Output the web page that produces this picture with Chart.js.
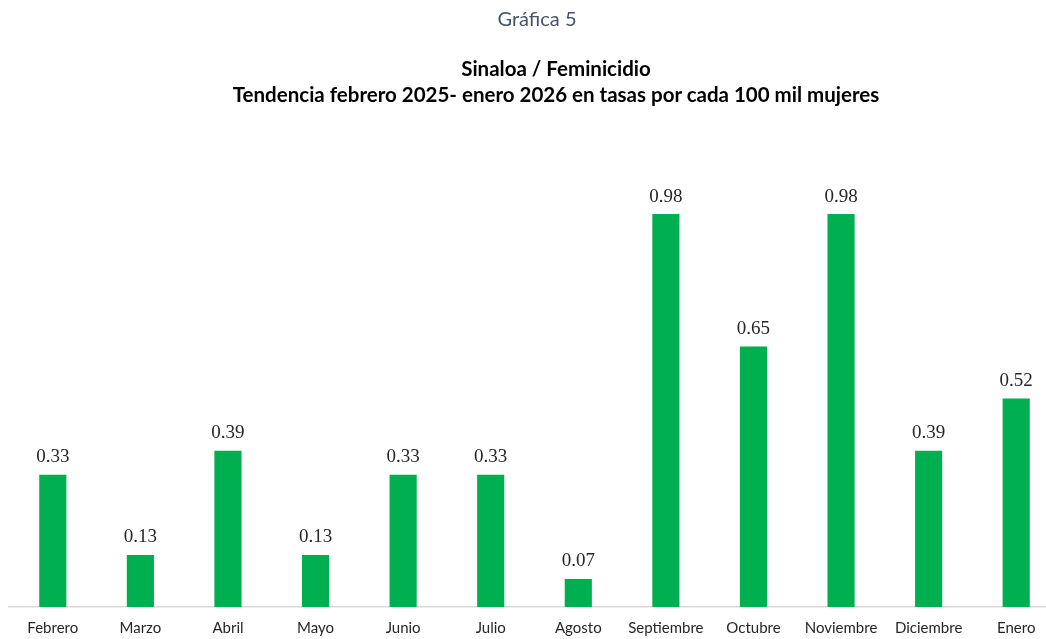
<!DOCTYPE html>
<html>
<head>
<meta charset="utf-8">
<script src="https://cdn.jsdelivr.net/npm/chart.js@4"></script>
<style>
  html, body { margin: 0; padding: 0; background: #fff; overflow: hidden; width: 1046px; height: 639px; }
  #wrap { position: relative; width: 1060px; height: 639px; }
  .t { position: absolute; white-space: nowrap; font-family: Lato, sans-serif; transform: translateX(-50%); }
  #g5 { left: 537px; top: 6px; font-size: 20px; color: #44546A; }
  #t1 { left: 556px; top: 56px; font-size: 20.5px; font-weight: bold; color: #000; }
  #t2 { left: 556px; top: 82px; font-size: 20.5px; font-weight: bold; color: #000; }
</style>
</head>
<body>
<div id="wrap">
  <canvas id="myChart" width="1060" height="639"></canvas>
  <div class="t" id="g5">Gráfica 5</div>
  <div class="t" id="t1">Sinaloa / Feminicidio</div>
  <div class="t" id="t2">Tendencia febrero 2025- enero 2026 en tasas por cada 100 mil mujeres</div>
</div>
<script>
const months = ['Febrero', 'Marzo', 'Abril', 'Mayo', 'Junio', 'Julio', 'Agosto', 'Septiembre', 'Octubre', 'Noviembre', 'Diciembre', 'Enero'];
const rates = [0.33, 0.13, 0.39, 0.13, 0.33, 0.33, 0.07, 0.98, 0.65, 0.98, 0.39, 0.52];

// labels above each bar
const valueLabels = {
  id: 'valueLabels',
  afterDatasetsDraw(chart) {
    const ctx = chart.ctx;
    const meta = chart.getDatasetMeta(0);
    ctx.save();
    ctx.font = '19px "Liberation Serif", serif';
    ctx.fillStyle = '#262626';
    ctx.textAlign = 'center';
    ctx.textBaseline = 'bottom';
    meta.data.forEach(function(bar, i) {
      ctx.fillText(rates[i].toFixed(2), bar.x, bar.y - 8);
    });
    ctx.restore();
  }
};

document.addEventListener('DOMContentLoaded', function() {
  const ctx = document.getElementById('myChart').getContext('2d');
  new Chart(ctx, {
    type: 'bar',
    data: {
      labels: months,
      datasets: [{
        data: rates,
        backgroundColor: '#00B050',
        borderWidth: 0,
        barPercentage: 0.31,
        categoryPercentage: 1
      }]
    },
    options: {
      responsive: false,
      animation: false,
      layout: { padding: { top: 166, left: 9, right: 0, bottom: -10 } },
      plugins: { legend: { display: false }, tooltip: { enabled: false } },
      scales: {
        y: { display: false, min: 0, max: 1.1 },
        x: {
          grid: { display: false, drawTicks: false },
          border: { display: true, color: '#D9D9D9', width: 1.5 },
          ticks: { color: '#262626', padding: 12, font: { family: 'Lato', size: 15 } }
        }
      }
    },
    plugins: [valueLabels]
  });
});
</script>
</body>
</html>
